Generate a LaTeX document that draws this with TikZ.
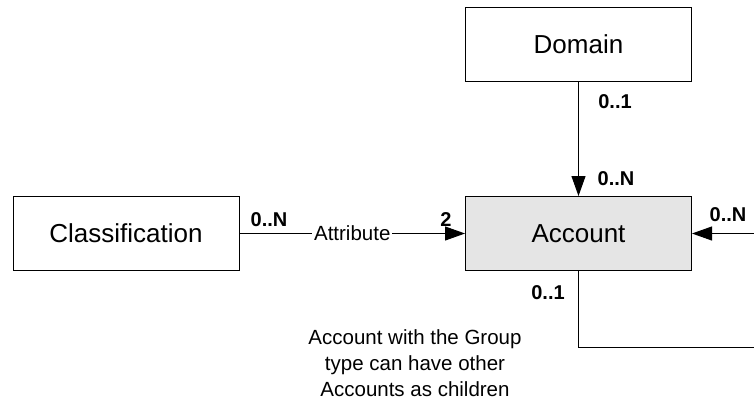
\documentclass[tikz,border=0pt]{standalone}
\usepackage{fontspec}
\setmainfont{Liberation Sans}
\usetikzlibrary{arrows.meta}

\begin{document}
\begin{tikzpicture}[x=1pt,y=-1pt,>={Triangle[length=20pt,width=14pt]},line width=1pt,
	entity/.style={rectangle,draw,minimum width=226pt,minimum height=74pt,font=\fontsize{26}{30}\selectfont},
	card/.style={inner sep=0pt,font=\fontsize{20}{24}\selectfont\bfseries},
	rolelabel/.style={fill=white,inner sep=2pt,font=\fontsize{20.5}{24}\selectfont}]
		\useasboundingbox (0,0) rectangle (754,400);
		\node [entity] (cls) at (126,233.5) {Classification};
		\node [entity] (dom) at (578.5,44.5) {Domain};
		\node [entity,fill=black!10] (acc) at (578.5,233.5) {Account};
		\coordinate (rin) at (754,233.5);
		\coordinate (bend) at (578.5,347);
		\coordinate (rout) at (754,347);
		\node [card] (c1) at (615,102) {0..1};
		\node [card] (c2) at (616,179) {0..N};
		\node [card] (c3) at (269,220) {0..N};
		\node [card] (c4) at (446,220) {2};
		\node [card] (c5) at (728,215) {0..N};
		\node [card] (c6) at (548,293) {0..1};
		\node [align=center,inner sep=0pt,font=\fontsize{20.5}{26}\selectfont] (note) at (415,363) {Account with the Group\\type can have other\\Accounts as children};
		\draw[->] (dom) -- (acc);
		\draw[->] (cls) -- node[rolelabel] (attr) {Attribute} (acc);
		\draw[->] (rin) -- (acc);
		\draw (acc) -- (bend) -- (rout);
	\end{tikzpicture}
\end{document}
